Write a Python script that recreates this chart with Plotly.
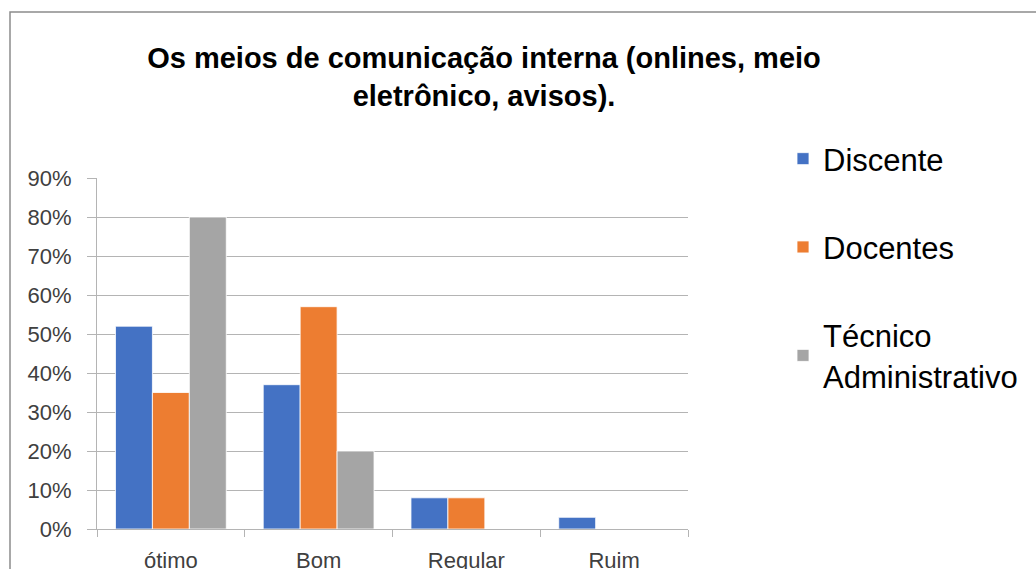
import plotly.graph_objects as go

categories = ["ótimo", "Bom", "Regular", "Ruim"]
discente = [0.52, 0.37, 0.08, 0.03]
docentes = [0.35, 0.57, 0.08, 0.0]
tecnico = [0.80, 0.20, 0.0, 0.0]

series = [
    ("Discente", discente, "#4472C4"),
    ("Docentes", docentes, "#ED7D31"),
    ("Técnico<br>Administrativo", tecnico, "#A5A5A5"),
]

FONT = "Liberation Sans, Arial, sans-serif"
GRID = "#b4b4b4"

W, H = 1036, 569
ML, MR, MT, MB = 97, 348, 178, 40
PW, PH = W - ML - MR, H - MT - MB

fig = go.Figure()
for name, vals, color in series:
    fig.add_trace(
        go.Bar(
            x=categories,
            y=vals,
            name=name,
            legendgroup=name,
            marker=dict(color=color, line=dict(color="white", width=0.8)),
        )
    )

fig.update_layout(
    width=W,
    height=H,
    margin=dict(l=ML, r=MR, t=MT, b=MB),
    paper_bgcolor="white",
    plot_bgcolor="white",
    barmode="group",
    bargap=0.25,
    bargroupgap=0,
    font=dict(family=FONT, color="#595959"),
    title=dict(
        text="Os meios de comunicação interna (onlines, meio<br>eletrônico, avisos).",
        font=dict(family=FONT, size=29, color="black", weight="bold"),
        x=(484 - ML) / PW,
        xref="paper",
        xanchor="center",
        y=1 - 68 / H,
        yref="container",
        yanchor="top",
    ),
    legend=dict(
        x=(783 - ML) / PW,
        y=(MT + PH - 132) / PH,
        xanchor="left",
        yanchor="top",
        traceorder="grouped",
        tracegroupgap=45,
        font=dict(family=FONT, size=31, color="black"),
        itemwidth=30,
    ),
    showlegend=True,
)

fig.update_xaxes(
    showgrid=False,
    showline=True,
    linecolor=GRID,
    linewidth=1,
    ticks="outside",
    tickson="boundaries",
    ticklen=7,
    tickcolor=GRID,
    ticklabelstandoff=12,
    tickfont=dict(family=FONT, size=22, color="#404040"),
    automargin=False,
)
fig.update_yaxes(
    range=[0, 0.9],
    dtick=0.1,
    tickformat=".0%",
    showgrid=True,
    gridcolor=GRID,
    gridwidth=1,
    showline=True,
    linecolor=GRID,
    linewidth=1,
    ticks="outside",
    ticklen=9,
    tickcolor=GRID,
    ticklabelstandoff=11,
    tickfont=dict(family=FONT, size=22, color="#404040"),
    zeroline=False,
    automargin=False,
)

# outer chart frame (only top and left edges fall inside the picture)
fx = (10 - ML) / PW
fy = (MT + PH - 12) / PH
fig.add_shape(
    type="rect", xref="paper", yref="paper",
    x0=fx, x1=1.9, y0=-0.3, y1=fy,
    line=dict(color="#8c8c8c", width=1.5),
    fillcolor="rgba(0,0,0,0)",
    layer="below",
)

fig.write_html(
    "out.html",
    config={"displayModeBar": False},
    post_script="document.body.style.margin='0';document.body.style.overflow='hidden';",
)
